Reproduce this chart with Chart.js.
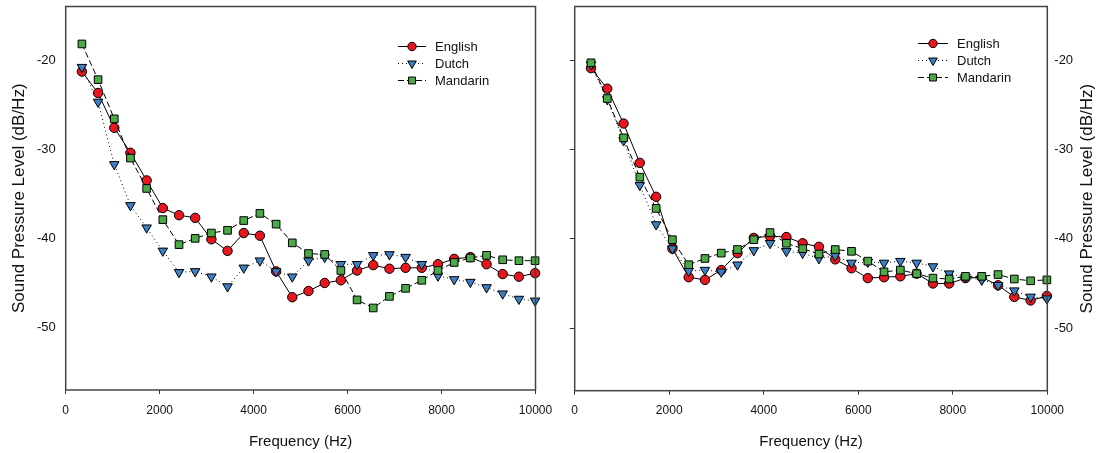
<!DOCTYPE html>
<html>
<head>
<meta charset="utf-8">
<script src="https://cdn.jsdelivr.net/npm/chart.js@4.4.0/dist/chart.umd.min.js"></script>
<style>
  html, body { margin: 0; padding: 0; background: #fff; }
  #wrap { position: relative; width: 1098px; height: 453px; overflow: hidden; }
  .panel { position: absolute; top: 0; }
</style>
</head>
<body>
<div id="wrap">
  <canvas id="left" class="panel" style="left:0" width="560" height="453"></canvas>
  <canvas id="right" class="panel" style="left:549px" width="549" height="453"></canvas>
</div>
<script>
// frequency bins (Hz)
const freqs = [345, 689, 1034, 1378, 1723, 2067, 2412, 2756, 3101, 3445, 3790, 4134, 4479, 4823, 5168,
  5513, 5857, 6202, 6546, 6891, 7235, 7580, 7924, 8269, 8613, 8958, 9302, 9647, 9991];

// left panel (dB/Hz)
const leftEnglish = [-21.3, -23.7, -27.6, -30.4, -33.5, -36.6, -37.4, -37.7, -40.1, -41.4, -39.4, -39.7, -43.7, -46.6, -45.9,
  -45.0, -44.7, -43.6, -43.0, -43.4, -43.3, -43.3, -42.9, -42.3, -42.1, -42.9, -44.0, -44.3, -43.9];
const leftDutch = [-20.8, -24.7, -31.7, -36.3, -38.8, -41.4, -43.8, -43.7, -44.3, -45.4, -43.3, -42.5, -43.7, -44.3, -42.5,
  -42.1, -42.9, -42.9, -41.9, -41.8, -42.1, -42.9, -44.2, -44.6, -44.9, -45.5, -46.2, -46.8, -47.0];
const leftMandarin = [-18.2, -22.2, -26.6, -31.0, -34.4, -37.9, -40.7, -40.0, -39.4, -39.1, -38.0, -37.2, -38.4, -40.5, -41.7,
  -41.8, -43.6, -46.9, -47.8, -46.5, -45.6, -44.7, -43.6, -42.7, -42.2, -41.9, -42.4, -42.5, -42.5];

// right panel (dB/Hz)
const rightEnglish = [-20.9, -23.2, -27.1, -31.5, -35.3, -41.1, -44.3, -44.6, -43.5, -41.6, -39.9, -39.7, -39.8, -40.5, -40.9,
  -42.3, -43.3, -44.4, -44.3, -44.2, -43.9, -45.0, -45.0, -44.4, -44.3, -45.2, -46.5, -46.9, -46.4];
const rightDutch = [-20.5, -24.4, -29.0, -34.0, -38.4, -41.1, -43.6, -43.5, -43.7, -42.9, -41.3, -40.5, -41.4, -41.6, -42.2,
  -41.9, -42.7, -42.6, -42.7, -42.5, -42.7, -43.1, -43.9, -44.3, -44.6, -45.2, -45.8, -46.5, -46.7];
const rightMandarin = [-20.3, -24.3, -28.7, -33.1, -36.6, -40.1, -42.9, -42.2, -41.6, -41.2, -40.1, -39.3, -40.5, -41.1, -41.7,
  -41.2, -41.4, -42.5, -43.7, -43.5, -43.9, -44.4, -44.5, -44.2, -44.2, -44.0, -44.5, -44.7, -44.6];

const xTicks = [0, 2000, 4000, 6000, 8000, 10000];
const yTicks = [-50, -40, -30, -20];

const FONT = '"Liberation Sans", Arial, sans-serif';
const RED = '#e8161e', BLUE = '#3a80c2', GREEN = '#4aaa46';

function drawMarker(ctx, style, x, y, r, fill) {
  ctx.save();
  ctx.fillStyle = fill;
  ctx.strokeStyle = '#000';
  ctx.lineWidth = 1;
  ctx.setLineDash([]);
  ctx.beginPath();
  if (style === 'circle') {
    ctx.arc(x, y, r, 0, Math.PI * 2);
  } else if (style === 'triangle') {
    const h = r * Math.sqrt(3) / 2;
    ctx.moveTo(x - h, y - r / 2);
    ctx.lineTo(x + h, y - r / 2);
    ctx.lineTo(x, y + r);
  } else {
    const s = r * Math.SQRT1_2;
    ctx.rect(x - s, y - s, 2 * s, 2 * s);
  }
  ctx.closePath();
  ctx.fill();
  ctx.stroke();
  ctx.restore();
}

// legend drawn inside the plot, line + marker + label
const insetLegend = {
  id: 'insetLegend',
  afterDatasetsDraw(chart, args, opts) {
    const ctx = chart.ctx, a = chart.chartArea;
    chart.data.datasets.forEach((ds, i) => {
      const cx = a.left + opts.x, cy = a.top + opts.y + i * opts.row;
      ctx.save();
      ctx.strokeStyle = '#000';
      ctx.lineWidth = 1;
      ctx.setLineDash(ds.borderDash || []);
      ctx.beginPath();
      ctx.moveTo(cx - opts.half, cy);
      ctx.lineTo(cx + opts.half, cy);
      ctx.stroke();
      ctx.restore();
      drawMarker(ctx, ds.pointStyle, cx, cy, ds.pointRadius - 0.5, ds.pointBackgroundColor);
      ctx.save();
      ctx.fillStyle = '#111';
      ctx.font = '13px ' + FONT;
      ctx.textBaseline = 'middle';
      ctx.fillText(ds.label, cx + opts.half + 9, cy + 1);
      ctx.restore();
    });
  }
};

// frame around the plot and the vertical axis title
const frame = {
  id: 'frame',
  afterDraw(chart, args, opts) {
    const ctx = chart.ctx, a = chart.chartArea;
    ctx.save();
    ctx.strokeStyle = '#444';
    ctx.lineWidth = 1.5;
    ctx.strokeRect(a.left, a.top, a.right - a.left, a.bottom - a.top);
    ctx.translate(opts.titleX, (a.top + a.bottom) / 2);
    ctx.rotate(-Math.PI / 2);
    ctx.fillStyle = '#111';
    ctx.font = '17px ' + FONT;
    ctx.textAlign = 'center';
    ctx.textBaseline = 'middle';
    ctx.fillText('Sound Pressure Level (dB/Hz)', 0, 0);
    ctx.restore();
  }
};

function pts(vals) {
  return freqs.map((f, i) => ({ x: f, y: vals[i] }));
}

function datasets(eng, dut, man) {
  return [
    { label: 'English', data: pts(eng), borderColor: '#000', borderWidth: 1, pointStyle: 'circle', pointRadius: 4.7,
      pointBackgroundColor: RED, pointBorderColor: '#000', pointBorderWidth: 1, order: 2, clip: false },
    { label: 'Dutch', data: pts(dut), borderColor: '#000', borderWidth: 1, borderDash: [1, 3], pointStyle: 'triangle', pointRotation: 180,
      pointRadius: 5.5, pointBackgroundColor: BLUE, pointBorderColor: '#000', pointBorderWidth: 1, order: 1, clip: false },
    { label: 'Mandarin', data: pts(man), borderColor: '#000', borderWidth: 1, borderDash: [6, 3], pointStyle: 'rect',
      pointRadius: 5.4, pointBackgroundColor: GREEN, pointBorderColor: '#000', pointBorderWidth: 1, order: 0, clip: false }
  ];
}

function xScale(height) {
  return {
    type: 'linear', min: 0, max: 10000,
    afterBuildTicks: s => { s.ticks = xTicks.map(v => ({ value: v })); },
    afterFit: s => { s.height = height; s.paddingLeft = 0; s.paddingRight = 0; },
    grid: { drawOnChartArea: false, drawTicks: true, tickLength: 4, color: '#333' },
    border: { display: false },
    ticks: { color: '#111', font: { family: FONT, size: 12 }, padding: 9, maxRotation: 0, autoSkip: false,
      callback: v => String(v) },
    title: { display: true, text: 'Frequency (Hz)', color: '#111', font: { family: FONT, size: 15 }, padding: { top: 0, bottom: 2 } }
  };
}

function yBase(width) {
  return {
    min: -57, max: -14,
    afterBuildTicks: s => { s.ticks = yTicks.map(v => ({ value: v })); },
    afterFit: s => { s.width = width; s.paddingTop = 0; s.paddingBottom = 0; },
    border: { display: false }
  };
}

new Chart(document.getElementById('left'), {
  type: 'line',
  data: { datasets: datasets(leftEnglish, leftDutch, leftMandarin) },
  options: {
    responsive: false, animation: false, events: [],
    layout: { padding: { top: 6, right: 24.5, left: 0, bottom: 0 } },
    scales: {
      x: xScale(63),
      y: Object.assign(yBase(65.7), {
        position: 'left',
        grid: { drawOnChartArea: false, drawTicks: false },
        ticks: { color: '#111', font: { family: FONT, size: 13 }, padding: 10 }
      })
    },
    plugins: {
      legend: { display: false }, tooltip: { enabled: false },
      insetLegend: { x: 346.3, y: 40, row: 17, half: 14 },
      frame: { titleX: 19 }
    }
  },
  plugins: [insetLegend, frame]
});

new Chart(document.getElementById('right'), {
  type: 'line',
  data: { datasets: datasets(rightEnglish, rightDutch, rightMandarin) },
  options: {
    responsive: false, animation: false, events: [],
    layout: { padding: { top: 5, right: 0, left: 0, bottom: 0 } },
    scales: {
      x: xScale(62.3),
      yl: Object.assign(yBase(25.7), {
        position: 'left',
        grid: { drawOnChartArea: false, drawTicks: true, tickLength: 5, color: '#333' },
        ticks: { callback: () => '', padding: 0 }
      }),
      y: Object.assign(yBase(50.7), {
        position: 'right',
        grid: { drawOnChartArea: false, drawTicks: false },
        ticks: { color: '#111', font: { family: FONT, size: 13 }, padding: 7 }
      })
    },
    plugins: {
      legend: { display: false }, tooltip: { enabled: false },
      insetLegend: { x: 358.3, y: 37, row: 17, half: 15 },
      frame: { titleX: 538 }
    }
  },
  plugins: [insetLegend, frame]
});
</script>
</body>
</html>
